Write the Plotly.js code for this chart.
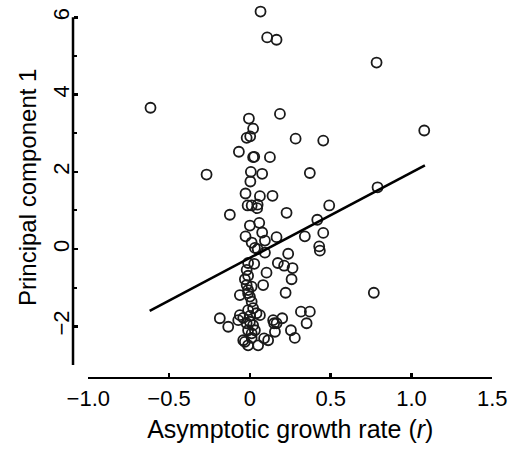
<!DOCTYPE html>
<html>
<head>
<meta charset="utf-8">
<script src="https://cdn.plot.ly/plotly-3.0.1.min.js"></script>
<style>html,body{margin:0;padding:0;background:#fff;}#chart{width:514px;height:452px;}</style>
</head>
<body>
<div id="chart"></div>
<script>
// Asymptotic growth rate (r) for each population
const growthRate = [
  0.066, 0.107, 0.165, 0.784, -0.615, -0.006, 0.186, 0.020, 1.079, -0.020,
  0.002, 0.283, 0.454, -0.068, 0.020, 0.027, 0.124, -0.268, 0.006, 0.076,
  0.371, 0.003, -0.027, 0.062, 0.140, 0.790, -0.014, 0.011, 0.048, 0.045,
  0.491, -0.124, 0.227, 0.417, 0.000, 0.058, 0.076, 0.454, -0.027, 0.011,
  0.093, 0.165, 0.340, 0.031, 0.048, 0.429, 0.433, 0.093, 0.237, 0.173,
  0.212, 0.264, -0.011, 0.027, -0.020, 0.103, -0.011, -0.031, 0.258, -0.020,
  0.011, 0.082, -0.011, -0.062, -0.011, 0.000, 0.221, 0.767, 0.011, 0.020,
  -0.011, 0.041, 0.062, -0.062, -0.072, -0.186, -0.134, -0.041, -0.020, 0.000,
  0.020, -0.011, 0.031, 0.011, 0.144, 0.200, 0.150, 0.165, 0.155, 0.316,
  0.371, 0.351, 0.254, 0.278, 0.088, 0.113, -0.041, -0.031, -0.011, 0.051,
  0.011, 0.000
];
// Principal component 1 score for each population
const pc1 = [
  6.15, 5.48, 5.42, 4.83, 3.66, 3.38, 3.50, 3.12, 3.07, 2.88,
  2.92, 2.86, 2.81, 2.52, 2.38, 2.39, 2.38, 1.93, 2.00, 1.95,
  1.97, 1.75, 1.44, 1.37, 1.38, 1.60, 1.13, 1.13, 1.15, 1.06,
  1.13, 0.89, 0.94, 0.76, 0.61, 0.68, 0.43, 0.42, 0.33, 0.17,
  0.22, 0.31, 0.33, 0.03, 0.00, 0.07, -0.04, -0.09, -0.12, -0.36,
  -0.43, -0.49, -0.36, -0.38, -0.54, -0.61, -0.69, -0.78, -0.78, -0.93,
  -0.97, -0.93, -1.06, -1.19, -1.14, -1.23, -1.13, -1.13, -1.36, -1.53,
  -1.58, -1.66, -1.71, -1.71, -1.84, -1.79, -2.01, -1.78, -1.92, -1.88,
  -1.97, -2.10, -2.10, -2.18, -1.84, -1.79, -1.92, -1.92, -2.14, -1.62,
  -1.62, -1.92, -2.10, -2.30, -2.31, -2.36, -2.36, -2.40, -2.49, -2.49,
  -2.30, -1.73
];
// Fitted regression line end points
const fitX = [-0.62, 1.083];
const fitY = [-1.60, 2.17];

const xTickVals = [-1, -0.5, 0, 0.5, 1, 1.5];
const xTickText = ['\u22121.0', '\u22120.5', '0', '0.5', '1.0', '1.5'];
const yTickVals = [-2, 0, 2, 4, 6];
const yTickText = ['\u22122', '0', '2', '4', '6'];
const yMinorVals = [-3, -1, 1, 3, 5];
const yAxisSpan = [-3, 6];

const FONT = 'Liberation Sans, Arial, Helvetica, sans-serif';

const traces = [
  {
    x: growthRate, y: pc1, type: 'scatter', mode: 'markers',
    cliponaxis: false,
    marker: {symbol: 'circle-open', size: 10, color: '#1a1a1a', line: {width: 1.8, color: '#1a1a1a'}},
    hoverinfo: 'x+y'
  },
  {
    x: fitX, y: fitY, type: 'scatter', mode: 'lines',
    cliponaxis: false,
    line: {color: '#000', width: 2.6},
    hoverinfo: 'skip'
  }
];

const Y_POS = 0.0293;

const layout = {
  width: 514, height: 452,
  margin: {l: 60, r: 10, t: 5, b: 60},
  paper_bgcolor: '#fff', plot_bgcolor: '#fff',
  showlegend: false,
  font: {family: FONT, color: '#000'},
  xaxis: {
    range: [-1, 1.5],
    domain: [0.0637, 0.9736],
    anchor: 'free', position: 0.037,
    showline: true, linecolor: '#000', linewidth: 2.5,
    showgrid: false, zeroline: false,
    ticks: 'inside', ticklen: 4, tickwidth: 2.5, tickcolor: '#000',
    tickvals: xTickVals, ticktext: xTickText,
    tickfont: {family: FONT, size: 22, color: '#000'},
    title: {text: 'Asymptotic growth rate (<i>r</i>)', font: {family: FONT, size: 25, color: '#000'}, standoff: 10}
  },
  yaxis: {
    range: [-3, 6.2],
    domain: [0.0698, 0.9881],
    anchor: 'free', position: Y_POS,
    showline: false,
    showgrid: false, zeroline: false,
    ticks: 'inside', ticklen: 4, tickwidth: 2.5, tickcolor: '#000',
    tickvals: yTickVals, ticktext: yTickText,
    tickangle: -90,
    minor: {tickvals: yMinorVals, ticks: 'inside', ticklen: 3, tickwidth: 2, tickcolor: '#000', showgrid: false},
    tickfont: {family: FONT, size: 22, color: '#000'},
    title: {text: 'Principal component 1', font: {family: FONT, size: 24, color: '#000'}, standoff: 4}
  },
  shapes: [
    {type: 'line', xref: 'paper', yref: 'y', x0: Y_POS, x1: Y_POS, y0: yAxisSpan[0], y1: yAxisSpan[1],
     line: {color: '#000', width: 2.5}}
  ]
};

Plotly.newPlot('chart', traces, layout, {displayModeBar: false, staticPlot: true});
</script>
</body>
</html>
